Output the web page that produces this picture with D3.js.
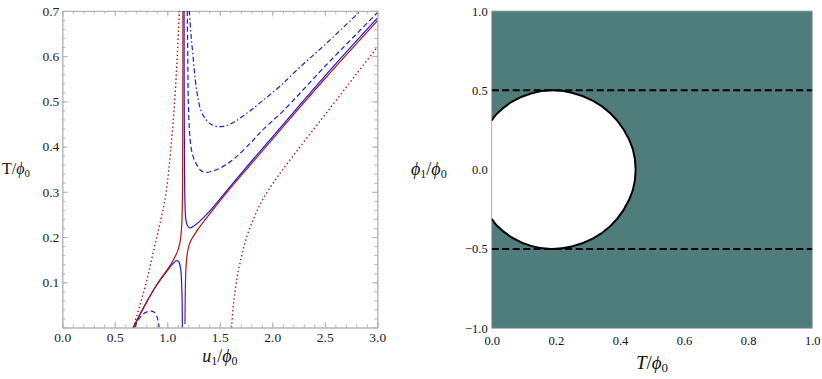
<!DOCTYPE html>
<html>
<head>
<meta charset="utf-8">
<script src="https://cdn.jsdelivr.net/npm/d3@7"></script>
<style>
  body { margin: 0; background: #fff; }
  svg { display: block; }
  svg text { font-family: "Liberation Serif", "Times New Roman", Times, serif; }
</style>
</head>
<body>
<svg id="chart" width="822" height="379"></svg>
<script>
// ---- left panel data: [u1/phi0, T/phi0]
var uTicks = [0, 0.5, 1, 1.5, 2, 2.5, 3]
  , tTicks = [0.1, 0.2, 0.3, 0.4, 0.5, 0.6, 0.7]
  ;

var redDottedLeft = [[0.676,0],[0.74,0.05],[0.80,0.1],[0.85,0.15],[0.90,0.2],[0.95,0.25],[0.99,0.3],
  [1.035,0.4],[1.07,0.5],[1.095,0.6],[1.115,0.7]];
var redSolidLower = [[0.676,0],[0.8,0.055],[0.9,0.095],[1.0,0.128],[1.05,0.146],[1.1,0.17],[1.122,0.19],
  [1.136,0.22],[1.143,0.27],[1.146,0.35],[1.148,0.5],[1.149,0.7]];
var redSolidUpper = [[1.168,0.008],[1.17,0.05],[1.173,0.1],[1.18,0.14],[1.195,0.17],[1.22,0.19],
  [1.28,0.213],[1.4,0.25],[1.6,0.308],[1.8,0.362],[2.0,0.416],[2.2,0.47],[2.5,0.55],[3.0,0.678]];
var blueSolidLower = [[0.676,0],[0.8,0.055],[0.9,0.094],[1.0,0.126],[1.05,0.14],[1.09,0.148],[1.11,0.145],
  [1.127,0.13],[1.136,0.1],[1.141,0.06],[1.143,0]];
var blueSolidUpper = [[1.16,0.7],[1.161,0.5],[1.164,0.35],[1.168,0.28],[1.176,0.24],[1.19,0.226],[1.215,0.22],
  [1.25,0.224],[1.3,0.233],[1.4,0.256],[1.6,0.312],[1.8,0.367],[2.0,0.421],[2.2,0.475],[2.5,0.556],[3.0,0.684]];
var blueDashedLow = [[0.69,0],[0.72,0.015],[0.76,0.027],[0.80,0.034],[0.85,0.036],[0.88,0.033],[0.90,0.025],
  [0.915,0.012],[0.922,0]];
var blueDashedHigh = [[1.19,0.7],[1.195,0.6],[1.2,0.5],[1.21,0.44],[1.225,0.40],[1.25,0.375],[1.28,0.36],
  [1.32,0.347],[1.36,0.343],[1.42,0.345],[1.5,0.352],[1.63,0.372],[1.8,0.41],[1.9,0.435],[2.1,0.478],
  [2.5,0.577],[3.0,0.696]];
var blueDashDot = [[1.21,0.7],[1.225,0.65],[1.245,0.6],[1.265,0.55],[1.29,0.51],[1.32,0.48],[1.36,0.462],
  [1.42,0.449],[1.49,0.444],[1.57,0.447],[1.66,0.458],[1.77,0.476],[1.9,0.5],[2.07,0.533],[2.26,0.575],
  [2.5,0.625],[2.84,0.7]];
var redDottedRight = [[1.613,0],[1.625,0.04],[1.64,0.07],[1.661,0.105],[1.7,0.15],[1.756,0.2],[1.83,0.245],
  [1.914,0.285],[2.04,0.33],[2.2,0.38],[2.4,0.44],[2.6,0.5],[2.8,0.56],[3.0,0.62]];

// ---- right panel data: [T/phi0, phi1/phi0]
var tTicksR = [0, 0.2, 0.4, 0.6, 0.8, 1.0]
  , phiTicks = [-1, -0.5, 0, 0.5, 1]
  , dashedPhi = [-0.5, 0.5]
  ;
var boundary = [[0,0.31],[0.015,0.35],[0.065,0.43],[0.125,0.482],[0.185,0.5],[0.25,0.485],[0.315,0.435],
  [0.37,0.356],[0.412,0.252],[0.44,0.13],[0.449,0],[0.44,-0.13],[0.412,-0.252],[0.37,-0.356],
  [0.315,-0.435],[0.25,-0.485],[0.185,-0.5],[0.125,-0.482],[0.065,-0.43],[0.015,-0.35],[0,-0.31]];

var red = '#b31218', blue = '#1c1cd2', teal = '#4f7d7b'
  , serif = '"Liberation Serif", "Times New Roman", Times, serif';

var svg = d3.select('#chart');

// ================= left panel =================
var x = d3.scaleLinear().domain([0, 3]).range([62.3, 377.3])
  , y = d3.scaleLinear().domain([0, 0.7]).range([327.5, 10.9]);

var left = svg.append('g');

left.append('clipPath').attr('id', 'clipL')
  .append('rect').attr('x', 62.3).attr('y', 10.9).attr('width', 315).attr('height', 316.6);

var uMinor = d3.range(0, 31).map(function (i) { return i / 10; });
var tMinor = d3.range(1, 36).map(function (i) { return i / 50; });

function frameTicks (g) {
  var b = y.range()[0], t = y.range()[1], l = x.range()[0], r = x.range()[1];
  g.append('g').attr('transform', 'translate(0,' + b + ')')
    .call(d3.axisBottom(x).tickValues(uMinor).tickSize(-3).tickFormat(''));
  g.append('g').attr('transform', 'translate(0,' + b + ')')
    .call(d3.axisBottom(x).tickValues(uTicks).tickSize(-5.5).tickPadding(5).tickFormat(d3.format('.1f')));
  g.append('g').attr('transform', 'translate(0,' + t + ')')
    .call(d3.axisTop(x).tickValues(uMinor).tickSize(-3).tickFormat(''));
  g.append('g').attr('transform', 'translate(0,' + t + ')')
    .call(d3.axisTop(x).tickValues(uTicks).tickSize(-5.5).tickFormat(''));
  g.append('g').attr('transform', 'translate(' + l + ',0)')
    .call(d3.axisLeft(y).tickValues(tMinor).tickSize(-3).tickFormat(''));
  g.append('g').attr('transform', 'translate(' + l + ',0)')
    .call(d3.axisLeft(y).tickValues(tTicks).tickSize(-5.5).tickPadding(3).tickFormat(d3.format('.1f')));
  g.append('g').attr('transform', 'translate(' + r + ',0)')
    .call(d3.axisRight(y).tickValues(tMinor).tickSize(-3).tickFormat(''));
  g.append('g').attr('transform', 'translate(' + r + ',0)')
    .call(d3.axisRight(y).tickValues(tTicks).tickSize(-5.5).tickFormat(''));
}

frameTicks(left);
left.selectAll('g').attr('font-family', serif).attr('font-size', 13.5);
left.selectAll('.domain').attr('stroke', '#b5b5b5');
left.selectAll('.tick line').attr('stroke', '#b5b5b5');
left.selectAll('.tick text').attr('fill', '#222');

var line = d3.line()
  .x(function (d) { return x(d[0]); })
  .y(function (d) { return y(d[1]); })
  .curve(d3.curveCatmullRom.alpha(0.5));

var curves = [
  {pts: redDottedLeft, color: red, dash: '1.4,2.6', w: 1.4},
  {pts: redDottedRight, color: red, dash: '1.4,2.6', w: 1.4},
  {pts: blueDashedLow, color: blue, dash: '5,3', w: 1.2},
  {pts: blueDashedHigh, color: blue, dash: '5,3', w: 1.2},
  {pts: blueDashDot, color: blue, dash: '5,2.5,1.5,2.5', w: 1.2},
  {pts: blueSolidLower, color: blue, dash: null, w: 1.2},
  {pts: blueSolidUpper, color: blue, dash: null, w: 1.2},
  {pts: redSolidLower, color: red, dash: null, w: 1.2},
  {pts: redSolidUpper, color: red, dash: null, w: 1.2}
];

left.append('g').attr('clip-path', 'url(#clipL)')
  .selectAll('path')
    .data(curves)
  .enter().append('path')
    .attr('d', function (d) { return line(d.pts); })
    .attr('fill', 'none')
    .attr('stroke', function (d) { return d.color; })
    .attr('stroke-width', function (d) { return d.w; })
    .attr('stroke-dasharray', function (d) { return d.dash; });

var tl = left.append('text').attr('x', 2).attr('y', 174)
  .attr('font-family', serif).attr('font-size', 16).attr('fill', '#111');
tl.append('tspan').text('T/');
tl.append('tspan').attr('font-style', 'italic').text('ϕ');
tl.append('tspan').attr('dy', 3).attr('font-size', 11).text('0');

var ul = left.append('text').attr('x', 219.8).attr('y', 362).attr('text-anchor', 'middle')
  .attr('font-family', serif).attr('font-size', 18).attr('fill', '#111');
ul.append('tspan').attr('font-style', 'italic').text('u');
ul.append('tspan').attr('dy', 3).attr('font-size', 12).text('1');
ul.append('tspan').attr('dy', -3).text('/');
ul.append('tspan').attr('font-style', 'italic').text('ϕ');
ul.append('tspan').attr('dy', 3).attr('font-size', 12).text('0');

// ================= right panel =================
var x2 = d3.scaleLinear().domain([0, 1]).range([491.7, 812.3])
  , y2 = d3.scaleLinear().domain([-1, 1]).range([328.3, 11]);

var right = svg.append('g');

right.append('rect')
  .attr('x', x2(0)).attr('y', y2(1))
  .attr('width', x2(1) - x2(0)).attr('height', y2(-1) - y2(1))
  .attr('fill', teal);

var bline = d3.line()
  .x(function (d) { return x2(d[0]); })
  .y(function (d) { return y2(d[1]); })
  .curve(d3.curveCatmullRom.alpha(0.5));

right.append('path')
  .attr('d', bline(boundary) + 'Z')
  .attr('fill', '#fff');

right.selectAll('.hdash')
    .data(dashedPhi)
  .enter().append('line')
    .attr('x1', x2(0)).attr('x2', x2(1))
    .attr('y1', function (d) { return y2(d); })
    .attr('y2', function (d) { return y2(d); })
    .attr('stroke', '#000').attr('stroke-width', 2)
    .attr('stroke-dasharray', '7,3.5');

right.append('path')
  .attr('d', bline(boundary))
  .attr('fill', 'none')
  .attr('stroke', '#000')
  .attr('stroke-width', 2);

right.append('rect')
  .attr('x', x2(0)).attr('y', y2(1))
  .attr('width', x2(1) - x2(0)).attr('height', y2(-1) - y2(1))
  .attr('fill', 'none').attr('stroke', '#a8a8a8').attr('stroke-width', 0.8);

var fmtR = function (d) { return d3.format('.1f')(d).replace('-', '\u2212'); };

right.append('g').attr('transform', 'translate(0,' + y2(-1) + ')')
  .call(d3.axisBottom(x2).tickValues(tTicksR).tickSize(0).tickPadding(8).tickFormat(fmtR))
  .call(function (g) { g.select('.domain').remove(); });
right.append('g').attr('transform', 'translate(' + x2(0) + ',0)')
  .call(d3.axisLeft(y2).tickValues(phiTicks).tickSize(0).tickPadding(4).tickFormat(fmtR))
  .call(function (g) { g.select('.domain').remove(); });
right.selectAll('g').attr('font-family', serif).attr('font-size', 12.5);
right.selectAll('.tick text').attr('fill', '#111');

var pl = right.append('text').attr('x', 411).attr('y', 175)
  .attr('font-family', serif).attr('font-size', 18).attr('fill', '#111');
pl.append('tspan').attr('font-style', 'italic').text('ϕ');
pl.append('tspan').attr('dy', 3).attr('font-size', 12).text('1');
pl.append('tspan').attr('dy', -3).text('/');
pl.append('tspan').attr('font-style', 'italic').text('ϕ');
pl.append('tspan').attr('dy', 3).attr('font-size', 12).text('0');

var txl = right.append('text').attr('x', 652).attr('y', 369).attr('text-anchor', 'middle')
  .attr('font-family', serif).attr('font-size', 19).attr('fill', '#111');
txl.append('tspan').attr('font-style', 'italic').text('T');
txl.append('tspan').text('/');
txl.append('tspan').attr('font-style', 'italic').text('ϕ');
txl.append('tspan').attr('dy', 3).attr('font-size', 13).text('0');
</script>
</body>
</html>
